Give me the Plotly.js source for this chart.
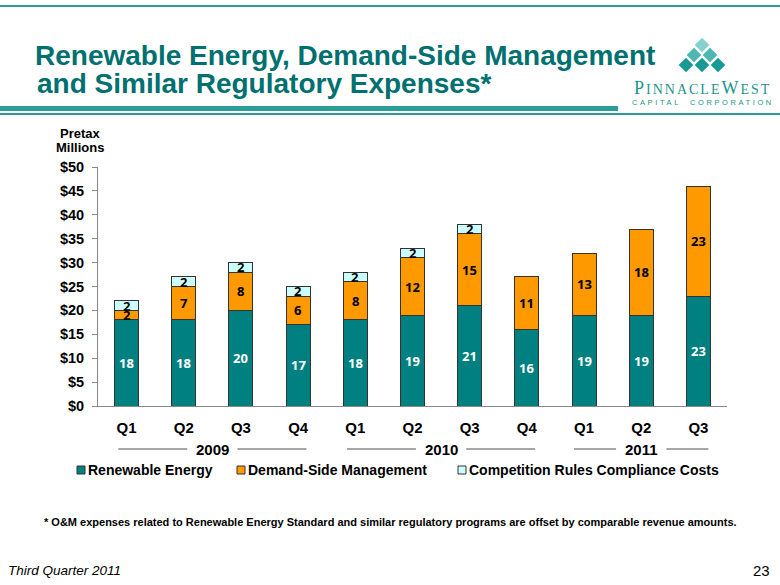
<!DOCTYPE html>
<html><head><meta charset="utf-8">
<script src="https://cdn.plot.ly/plotly-3.0.1.min.js"></script>
<style>html,body{margin:0;padding:0;background:#fff;}</style>
</head><body>
<div id="chart" style="width:780px;height:585px;"></div>
<script>
// ---------- data ----------
const quarters = ['Q1','Q2','Q3','Q4','Q1','Q2','Q3','Q4','Q1','Q2','Q3'];
const years = ['2009','2010','2011'];
const quartersPerYear = [4,4,3];
const renewableEnergy = [18,18,20,17,18,19,21,16,19,19,23];
const demandSideMgmt  = [2,7,8,6,8,12,15,11,13,18,23];
const competitionRules = [2,2,2,2,2,2,2,null,null,null,null];
const seriesNames = ['Renewable Energy','Demand-Side Management','Competition Rules Compliance Costs'];
const yTickVals = [0,5,10,15,20,25,30,35,40,45,50];
const yTickText = ['$0','$5','$10','$15','$20','$25','$30','$35','$40','$45','$50'];

// ---------- style ----------
const colors = ['#008080','#FF9900','#CCFFFF'];
const labelColors = ['#FFFFFF','#000000','#000000'];
const teal = '#007070';
const lineTeal = '#2a9e99';
const W = 780, H = 585;
const L = 98, R = 727, T = 167, B = 406;
const PX = x => (x - L) / (R - L);
const PY = y => (B - y) / (B - T);

const xIdx = quarters.map((_, i) => i);
const series = [renewableEnergy, demandSideMgmt, competitionRules];

const traces = series.map((vals, s) => ({
  type: 'bar', x: xIdx, y: vals, name: seriesNames[s],
  marker: {color: colors[s], line: {color: '#333333', width: 1}},
  hoverinfo: 'skip', showlegend: false
}));

const annotations = [];
function txt(o) {
  annotations.push(Object.assign({showarrow: false, xanchor: 'center', yanchor: 'middle', xref: 'paper', yref: 'paper'}, o));
}
// value labels
xIdx.forEach(i => {
  let base = 0;
  series.forEach((vals, s) => {
    const v = vals[i];
    if (v) {
      txt({x: i, y: base + v / 2, xref: 'x', yref: 'y', text: String(v),
        font: {family: 'Open Sans', size: 13, color: labelColors[s], weight: 'bold'}});
      base += v;
    }
  });
});

const shapes = [];
// year labels with lines
let start = 0;
years.forEach((yr, k) => {
  const n = quartersPerYear[k];
  const c = start + (n - 1) / 2;
  const half = (n - 0.5) * 0.47;
  txt({x: c, y: PY(449), xref: 'x', text: yr,
    font: {family: 'Liberation Sans', size: 15, color: '#000', weight: 'bold'}});
  shapes.push({type: 'line', xref: 'x', yref: 'paper', x0: c - half, x1: c - 0.44, y0: PY(449), y1: PY(449), line: {color: '#888', width: 1.5}});
  shapes.push({type: 'line', xref: 'x', yref: 'paper', x0: c + 0.44, x1: c + half, y0: PY(449), y1: PY(449), line: {color: '#888', width: 1.5}});
  start += n;
});

// manual legend
const legendX = [77, 237, 458];
seriesNames.forEach((nm, s) => {
  shapes.push({type: 'rect', xref: 'paper', yref: 'paper', x0: PX(legendX[s]), x1: PX(legendX[s] + 8), y0: PY(474), y1: PY(466),
    fillcolor: colors[s], line: {color: '#333', width: 1}});
  txt({x: PX(legendX[s] + 9), y: PY(470), xanchor: 'left', text: nm,
    font: {family: 'Liberation Sans', size: 14, color: '#000', weight: 'bold'}});
});

// header decorations
shapes.push({type: 'line', xref: 'paper', yref: 'paper', x0: PX(0), x1: PX(780), y0: PY(6), y1: PY(6), line: {color: lineTeal, width: 2}});
shapes.push({type: 'rect', xref: 'paper', yref: 'paper', x0: PX(0), x1: PX(618), y0: PY(111), y1: PY(106), fillcolor: lineTeal, line: {width: 0}});
shapes.push({type: 'line', xref: 'paper', yref: 'paper', x0: PX(0), x1: PX(780), y0: PY(114), y1: PY(114), line: {color: lineTeal, width: 2}});
// logo diamonds
const dia = [[702,45,'#86d1cc'],[694,55,'#4db7b1'],[710,55,'#4db7b1'],[686,65,'#179a93'],[702,65,'#179a93'],[718,65,'#179a93']];
dia.forEach(([cx, cy, col]) => {
  const h = 7.3;
  shapes.push({type: 'path', xref: 'paper', yref: 'paper', fillcolor: col, line: {width: 0},
    path: `M ${PX(cx)} ${PY(cy - h)} L ${PX(cx + h)} ${PY(cy)} L ${PX(cx)} ${PY(cy + h)} L ${PX(cx - h)} ${PY(cy)} Z`});
});

// texts
txt({x: PX(35), y: PY(84), xanchor: 'left', text: 'and Similar Regulatory Expenses*',
  font: {family: 'Liberation Sans', size: 28, color: teal, weight: 'bold'}});
txt({x: PX(80), y: PY(134), text: 'Pretax', font: {family: 'Liberation Sans', size: 13, color: '#000', weight: 'bold'}});
txt({x: PX(80), y: PY(147), text: 'Millions', font: {family: 'Liberation Sans', size: 13, color: '#000', weight: 'bold'}});
txt({x: PX(390), y: PY(522),
  text: '* O&M expenses related to Renewable Energy Standard and similar regulatory programs are offset by comparable revenue amounts.',
  font: {family: 'Liberation Sans', size: 11, color: '#000', weight: 'bold'}});
txt({x: PX(6), y: PY(570), xanchor: 'left', text: 'Third Quarter 2011',
  font: {family: 'Liberation Sans', size: 13.5, color: '#000', style: 'italic'}});
txt({x: PX(772), y: PY(570), xanchor: 'right', text: '23',
  font: {family: 'Liberation Sans', size: 15, color: '#000'}});
txt({x: PX(703), y: PY(88), text: '<span style="font-size:18px">P</span>INNACLE<span style="font-size:18px">W</span>EST',
  font: {family: 'Liberation Serif', size: 14, color: '#23948e'}});
txt({x: PX(703), y: PY(103), text: 'CAPITAL  CORPORATION',
  font: {family: 'Liberation Sans', size: 7.5, color: '#23948e'}});

const boundaries = [];
for (let i = -0.5; i <= 10.5; i += 1) boundaries.push(i);

const layout = {
  width: W, height: H,
  margin: {l: L, r: W - R, t: T, b: H - B},
  paper_bgcolor: '#fff', plot_bgcolor: '#fff',
  barmode: 'stack', bargap: 0.58,
  showlegend: false,
  font: {family: 'Liberation Sans', color: '#000'},
  title: {text: 'Renewable Energy, Demand-Side Management', xref: 'container', yref: 'container',
    x: 35 / W, xanchor: 'left', y: 1 - 55 / H, yanchor: 'middle',
    font: {family: 'Liberation Sans', size: 28, color: teal, weight: 'bold'}},
  xaxis: {range: [-0.5, 10.5], tickmode: 'array', tickvals: xIdx, ticktext: quarters, ticks: '',
    showline: true, linecolor: '#888', linewidth: 1, showgrid: false, zeroline: false,
    tickfont: {family: 'Liberation Sans', size: 15, color: '#000', weight: 'bold'}, ticklabelstandoff: 8, fixedrange: true},
  xaxis2: {overlaying: 'x', anchor: 'y', range: [-0.5, 10.5], tickmode: 'array', tickvals: boundaries,
    ticks: 'outside', ticklen: 5, tickcolor: '#888', showticklabels: false, showline: false, showgrid: false, zeroline: false},
  yaxis: {range: [0, 50], tickmode: 'array', tickvals: yTickVals, ticktext: yTickText, ticks: 'outside', ticklen: 5,
    tickcolor: '#888', showline: true, linecolor: '#888', linewidth: 1, showgrid: false, zeroline: false,
    tickfont: {family: 'Liberation Sans', size: 14.5, color: '#000', weight: 'bold'}, ticklabelstandoff: 5, fixedrange: true},
  shapes: shapes, annotations: annotations
};

Plotly.newPlot('chart', traces, layout, {displayModeBar: false, staticPlot: true}).then(() => {
  document.querySelectorAll('.annotation-text').forEach(t => {
    const s = t.textContent;
    if (s === 'PINNACLEWEST') t.style.letterSpacing = '2px';
    if (s.indexOf('CAPITAL') === 0) t.style.letterSpacing = '2.6px';
  });
});
</script>
</body></html>
